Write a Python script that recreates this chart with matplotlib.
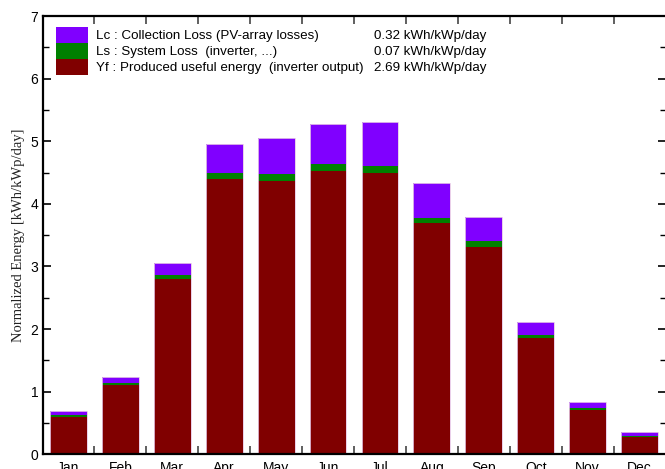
import matplotlib
matplotlib.use("Agg")
import matplotlib.pyplot as plt
from matplotlib.patches import Rectangle
from matplotlib.ticker import MultipleLocator

# valeurs (kWh/kWp/jour)
months = ["Jan", "Feb", "Mar", "Apr", "May", "Jun",
          "Jul", "Aug", "Sep", "Oct", "Nov", "Dec"]
yf = [0.60, 1.11, 2.80, 4.40, 4.37, 4.53, 4.50, 3.69, 3.31, 1.86, 0.71, 0.27]
ls = [0.03, 0.03, 0.06, 0.10, 0.11, 0.11, 0.11, 0.09, 0.09, 0.05, 0.03, 0.02]
lc = [0.06, 0.09, 0.20, 0.45, 0.57, 0.63, 0.70, 0.56, 0.39, 0.20, 0.09, 0.06]

legend_labels = ["Lc : Collection Loss (PV-array losses)",
                 "Ls : System Loss  (inverter, ...)",
                 "Yf : Produced useful energy  (inverter output)"]
legend_values = ["0.32 kWh/kWp/day", "0.07 kWh/kWp/day", "2.69 kWh/kWp/day"]

c_yf = "#800000"
c_ls = "#008000"
c_lc = "#8000ff"

plt.rcParams["font.family"] = ["Liberation Sans", "DejaVu Sans"]

W, H = 665, 469
fig = plt.figure(figsize=(W / 100, H / 100), dpi=100)
ax = fig.add_axes([42.5 / W, (H - 454.3) / H, 623 / W, (454.3 - 16) / H])

x = list(range(len(months)))
bottom_ls = yf
bottom_lc = [a + b for a, b in zip(yf, ls)]
bar_kw = dict(width=0.71, linewidth=0)
ax.bar(x, yf, color=c_yf, **bar_kw)
ax.bar(x, ls, bottom=bottom_ls, color=c_ls, **bar_kw)
ax.bar(x, lc, bottom=bottom_lc, color=c_lc, **bar_kw)
# contour clair autour de chaque barre complete
totals = [a + b + c for a, b, c in zip(yf, ls, lc)]
ax.bar(x, totals, width=0.71, fill=False, edgecolor="#e6c8e6",
       linewidth=0.6)

ax.set_xlim(-0.5, 11.5)
ax.set_ylim(0, 7)

# ticks : labels au centre, petits traits entre les barres
ax.set_xticks(x)
ax.set_xticklabels(months)
ax.xaxis.set_minor_locator(MultipleLocator(1, offset=0.5))
ax.tick_params(axis="x", which="major", length=0, labelsize=10, pad=5)
ax.tick_params(axis="x", which="minor", direction="in", length=6,
               width=1.2, top=True, bottom=True, color="#444444")
ax.yaxis.set_major_locator(MultipleLocator(1))
ax.yaxis.set_minor_locator(MultipleLocator(0.5))
ax.tick_params(axis="y", which="major", direction="in", length=6,
               width=1.2, left=True, right=True, labelsize=10, pad=3)
ax.tick_params(axis="y", which="minor", direction="in", length=4,
               width=1.0, left=True, right=True)

for side in ["left", "bottom", "top"]:
    ax.spines[side].set_linewidth(1.6)
ax.spines["right"].set_color("#999999")
ax.spines["right"].set_linewidth(0.8)

ax.set_ylabel("Normalized Energy [kWh/kWp/day]", family="Liberation Serif",
              fontsize=10.5, color="#222222", labelpad=4)

# legende faite a la main
colors = [c_lc, c_ls, c_yf]
for i in range(3):
    y0 = H - 27 - 16 * (i + 1)
    fig.patches.append(Rectangle((55.7 / W, y0 / H), 32 / W, 16 / H,
                                 transform=fig.transFigure,
                                 facecolor=colors[i], edgecolor="none"))
    yc = (H - 36.5 - 16 * i) / H
    fig.text(96 / W, yc, legend_labels[i], fontsize=9.6, va="center")
    fig.text(486 / W, yc, legend_values[i], fontsize=9.6, va="center",
             ha="right")

fig.savefig("out.png", dpi=100)
